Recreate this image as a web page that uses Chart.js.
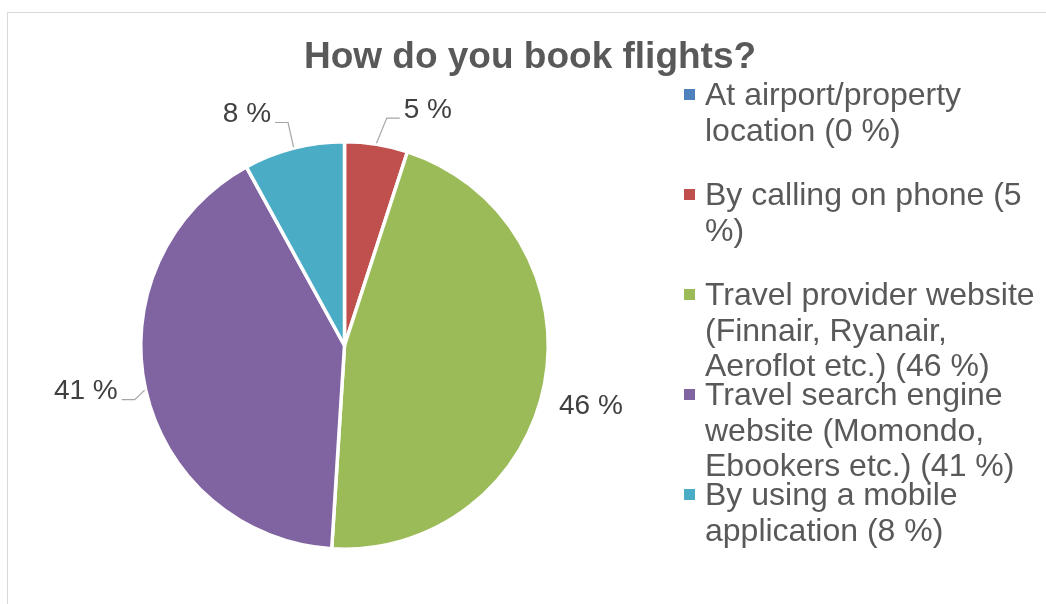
<!DOCTYPE html>
<html>
<head>
<meta charset="utf-8">
<script src="https://cdn.jsdelivr.net/npm/chart.js@4.4.1/dist/chart.umd.min.js"></script>
<style>
  html, body { margin: 0; padding: 0; background: #fff; }
  #wrap { position: relative; width: 1046px; height: 604px; }
</style>
</head>
<body>
<div id="wrap"><canvas id="pieChart"></canvas></div>
<script>
const chartTitle = 'How do you book flights?';
const categories = [
    'At airport/property location',
    'By calling on phone',
    'Travel provider website (Finnair, Ryanair, Aeroflot etc.)',
    'Travel search engine website (Momondo, Ebookers etc.)',
    'By using a mobile application'
];
const shares = [0, 5, 46, 41, 8];
const sliceColors = ['#4F81BD', '#C0504D', '#9BBB59', '#8064A2', '#4BACC6'];

const FONT = '"Liberation Sans", Arial, sans-serif';

// light grey frame around the whole chart
const frame = {
    id: 'frame',
    beforeDraw(chart) {
        const ctx = chart.ctx;
        ctx.save();
        ctx.fillStyle = '#fff';
        ctx.fillRect(0, 0, chart.width, chart.height);
        ctx.strokeStyle = '#d9d9d9';
        ctx.lineWidth = 1;
        ctx.strokeRect(7.5, 12.5, chart.width + 20, chart.height + 20);
        ctx.restore();
    }
};

const titleText = {
    id: 'titleText',
    afterDraw(chart, args, opts) {
        const ctx = chart.ctx;
        ctx.save();
        ctx.font = 'bold 37px ' + FONT;
        ctx.fillStyle = '#595959';
        ctx.textAlign = 'center';
        ctx.textBaseline = 'alphabetic';
        ctx.fillText(opts.text, opts.x, opts.y);
        ctx.restore();
    }
};

// percentage labels outside the slices, with elbow leader lines
const pieLabels = {
    id: 'pieLabels',
    afterDatasetsDraw(chart, args, opts) {
        const ctx = chart.ctx;
        const data = chart.data.datasets[0].data;
        const arcs = chart.getDatasetMeta(0).data;
        ctx.save();
        ctx.font = opts.font;
        arcs.forEach((arc, i) => {
            const v = data[i];
            if (!v) return;
            const p = opts.placement[i];
            const { x, y, startAngle, endAngle, outerRadius } =
                arc.getProps(['x', 'y', 'startAngle', 'endAngle', 'outerRadius'], true);
            const mid = (startAngle + endAngle) / 2;
            const a = mid + p.turn * Math.PI / 180;
            const lx = x + Math.cos(a) * (outerRadius + p.gap);
            const ly = y + Math.sin(a) * (outerRadius + p.gap);
            const text = v + ' %';
            const w = ctx.measureText(text).width;

            ctx.fillStyle = opts.color;
            ctx.textAlign = 'center';
            ctx.textBaseline = 'middle';
            ctx.fillText(text, lx, ly);

            if (p.leader) {
                const side = Math.cos(a) < 0 ? 1 : -1;
                const ex = lx + side * (w / 2 + 4);
                const kx = lx + side * (w / 2 + 17);
                const ky = ly + 8;
                const sx = x + Math.cos(mid) * (outerRadius + 1);
                const sy = y + Math.sin(mid) * (outerRadius + 1);
                ctx.strokeStyle = '#a6a6a6';
                ctx.lineWidth = 1.2;
                ctx.beginPath();
                ctx.moveTo(sx, sy);
                ctx.lineTo(kx, ky);
                ctx.lineTo(ex, ky);
                ctx.stroke();
            }
        });
        ctx.restore();
    }
};

// wrapped legend on the right, fixed step per entry
const sideLegend = {
    id: 'sideLegend',
    afterDraw(chart, args, opts) {
        const ctx = chart.ctx;
        const data = chart.data.datasets[0].data;
        const colors = chart.data.datasets[0].backgroundColor;
        ctx.save();
        ctx.font = opts.fontSize + 'px ' + FONT;
        ctx.textAlign = 'left';
        ctx.textBaseline = 'alphabetic';
        chart.data.labels.forEach((label, i) => {
            const words = (label + ' (' + data[i] + ' %)').split(' ');
            const lines = [];
            let line = '';
            words.forEach(word => {
                const test = line ? line + ' ' + word : word;
                if (line && ctx.measureText(test).width > opts.maxWidth) {
                    lines.push(line);
                    line = word;
                } else {
                    line = test;
                }
            });
            lines.push(line);

            const base = opts.top + i * opts.step;
            ctx.fillStyle = colors[i];
            ctx.fillRect(opts.x, base - 16, 11, 11);
            ctx.fillStyle = '#595959';
            lines.forEach((ln, k) => {
                ctx.fillText(ln, opts.x + 21, base + k * opts.lineHeight);
            });
        });
        ctx.restore();
    }
};

new Chart(document.getElementById('pieChart'), {
    type: 'pie',
    data: {
        labels: categories,
        datasets: [{
            data: shares,
            backgroundColor: sliceColors,
            borderColor: '#ffffff',
            borderWidth: 3.5
        }]
    },
    options: {
        responsive: true,
        maintainAspectRatio: false,
        animation: false,
        layout: { padding: { left: 139, top: 140, right: 496, bottom: 53 } },
        plugins: {
            legend: { display: false },
            title: { display: false },
            tooltip: { enabled: false },
            titleText: { text: chartTitle, x: 530, y: 68 },
            pieLabels: {
                font: '28px ' + FONT,
                color: '#404040',
                placement: [
                    { turn: 0, gap: 40, leader: false },
                    { turn: 10.5, gap: 46, leader: true },
                    { turn: 3, gap: 50, leader: false },
                    { turn: 2.5, gap: 59, leader: true },
                    { turn: -8.5, gap: 47, leader: true }
                ]
            },
            sideLegend: { x: 684, top: 105, step: 100, lineHeight: 35.5, fontSize: 32, maxWidth: 338 }
        }
    },
    plugins: [frame, pieLabels, titleText, sideLegend]
});
</script>
</body>
</html>
